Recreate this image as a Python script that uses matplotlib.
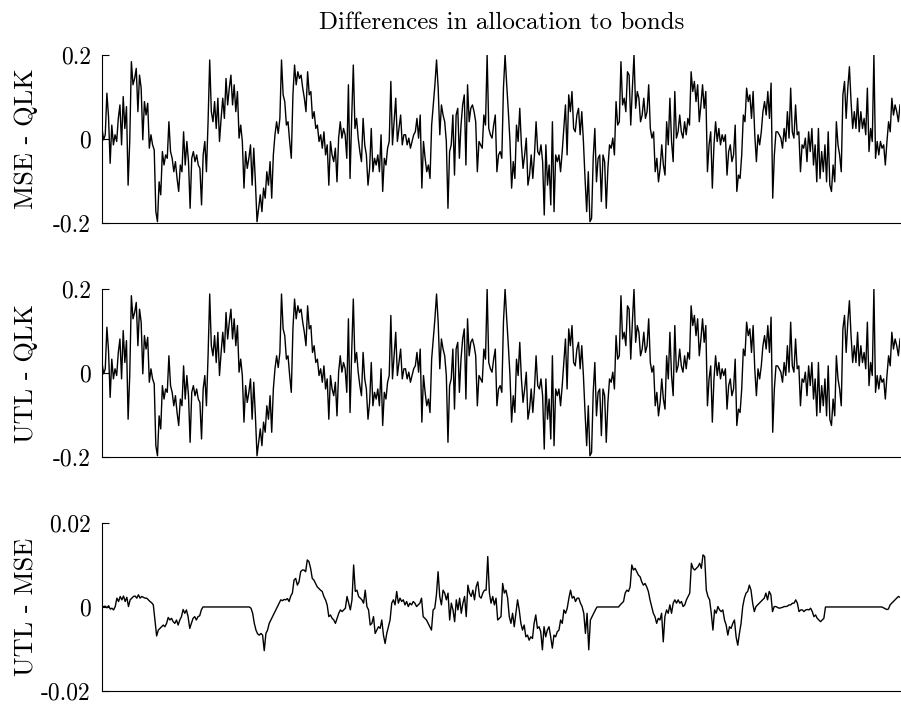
import numpy as np
import matplotlib.pyplot as plt

plt.rcParams['font.family'] = 'serif'
plt.rcParams['font.serif'] = ['cmr10', 'DejaVu Serif']
plt.rcParams['mathtext.fontset'] = 'cm'
plt.rcParams['axes.unicode_minus'] = False

title = 'Differences in allocation to bonds'
panel_labels = ['MSE - QLK', 'UTL - QLK', 'UTL - MSE']
tick_vals = [[-0.2, 0, 0.2], [-0.2, 0, 0.2], [-0.02, 0, 0.02]]
tick_text = [['-0.2', '0', '0.2'], ['-0.2', '0', '0.2'], ['-0.02', '0', '0.02']]

# MSE - QLK left to right
mse_qlk = [
    0.025, -0.002, 0.010, 0.109, 0.053, -0.058, 0.033, -0.014, 0.010, -0.006,
    0.049, 0.081, -0.014, 0.101, 0.025, 0.077, -0.110, -0.006, 0.184, 0.129,
    0.144, 0.168, 0.065, 0.152, 0.121, -0.002, 0.089, 0.057, 0.085, -0.022,
    0.010, -0.014, -0.026, -0.173, -0.197, -0.102, -0.133, -0.030, -0.062, -0.038,
    -0.046, 0.041, -0.030, -0.046, -0.078, -0.054, -0.094, -0.125, -0.062, -0.078,
    0.017, -0.062, -0.006, -0.054, -0.165, -0.046, -0.030, -0.054, -0.038, -0.062,
    -0.070, -0.157, -0.038, -0.006, -0.078, 0.041, 0.188, 0.065, 0.041, 0.089,
    0.025, 0.097, -0.006, 0.049, 0.097, 0.049, 0.144, 0.081, 0.121, 0.152,
    0.081, 0.129, 0.065, 0.113, 0.002, 0.033, -0.006, -0.117, -0.030, -0.070,
    -0.046, -0.014, -0.110, -0.022, -0.102, -0.197, -0.165, -0.133, -0.173, -0.117,
    -0.141, -0.078, -0.110, -0.054, -0.141, -0.038, 0.010, 0.041, 0.013, 0.049,
    0.188, 0.105, 0.089, 0.033, 0.041, -0.006, -0.046, 0.105, 0.176, 0.129,
    0.160, 0.144, 0.152, 0.121,
    0.097, 0.065, 0.160, 0.105, 0.113, 0.049, 0.065, 0.025, 0.033, -0.006,
    0.010, -0.022, 0.017, -0.038, -0.014, -0.110, -0.006, -0.038, -0.054, -0.022,
    -0.102, 0.002, 0.041, 0.002, 0.025, 0.010, -0.046, 0.129, -0.094, 0.049,
    0.176, 0.025, 0.049, 0.002, -0.030, -0.054, 0.049, -0.014, -0.038, -0.110,
    -0.070, 0.025, -0.078, -0.046, -0.062, -0.038, -0.078, 0.010, -0.125, -0.046,
    -0.062, -0.022, -0.006, 0.137, -0.014, 0.041, 0.097, -0.006, 0.025, 0.057,
    -0.014, 0.010, 0.010, -0.014, 0.002, -0.022, -0.006, 0.010, 0.017, 0.049,
    0.002, 0.057, -0.117, -0.006, -0.046, -0.078, -0.062, -0.094, 0.033, 0.081,
    0.129, 0.188, 0.121, 0.010, 0.081, 0.057, 0.041, -0.006, -0.165, -0.030,
    -0.014, 0.057, -0.086, 0.057, 0.073, -0.046, 0.033, 0.081, 0.105, -0.062,
    0.129, 0.041, 0.073, 0.081, 0.065, 0.041, -0.078, -0.006, -0.014, -0.022,
    0.057, 0.033, 0.200, 0.025, 0.010, 0.002, 0.033, 0.057, -0.078, -0.038,
    -0.030, -0.046, 0.121, 0.200, 0.129, 0.065, -0.006, -0.117, -0.054, -0.094,
    0.033, -0.006, 0.073, -0.014, -0.070, -0.038, 0.002, -0.110, -0.086, -0.038,
    -0.094, -0.038, 0.041, -0.030, -0.038, -0.014, -0.054, -0.181, -0.014, -0.110,
    -0.062, -0.157, 0.041, -0.173, -0.038, -0.054, -0.038, -0.078, -0.030, 0.025,
    0.081, -0.038, 0.105, 0.065, 0.113, 0.025, 0.017, 0.057, 0.073, 0.010,
    0.065, -0.006, -0.094, -0.173, -0.078, -0.197, -0.189, -0.046, 0.025, -0.102,
    -0.046, -0.038, -0.149, -0.038, -0.054, -0.165, -0.070, -0.014, -0.022, 0.002,
    -0.038, 0.089, 0.033, 0.041, 0.184, 0.081, 0.097, 0.065, 0.160, 0.152,
    0.033, 0.121, 0.200, 0.073, 0.113, 0.097, 0.041, 0.057, 0.097, 0.049,
    0.065, 0.129, 0.025, 0.002, 0.017, -0.078, -0.046, -0.102, -0.070, -0.014,
    -0.062, -0.086, 0.041, -0.014, 0.097, -0.006, -0.054, 0.113, 0.002, 0.017,
    0.057, 0.017, 0.002, 0.041, 0.010, 0.049, 0.033, 0.160, 0.113, 0.137,
    0.089, 0.129, 0.041,
    0.081, 0.129, 0.073, 0.113, -0.078, -0.014, 0.017, -0.117, -0.014, 0.041,
    -0.006, 0.025, -0.014, 0.010, -0.006, 0.010, -0.086, -0.030, -0.014, -0.054,
    -0.038, 0.033, -0.125, -0.086, -0.094, -0.038, 0.057, 0.041, 0.121, 0.089,
    0.105, 0.049, 0.113, 0.010, -0.054, 0.010, -0.014, 0.017, 0.065, 0.089,
    0.057, 0.113, 0.049, 0.133, -0.141, -0.038, 0.017, 0.017, 0.010, 0.002,
    -0.022, 0.025, -0.006, 0.065, 0.002, 0.121, 0.017, 0.002, 0.081, 0.010,
    0.017, -0.078, -0.014, -0.022, 0.002, -0.054, 0.017, -0.030, 0.025, -0.062,
    -0.014, -0.102, 0.025, -0.094, -0.030, -0.078, -0.014, -0.102, 0.017, -0.110,
    -0.125, -0.062, -0.102, 0.041, -0.014, -0.038, -0.078, 0.105, 0.137, 0.049,
    0.121, 0.172, 0.089, 0.025, 0.065, 0.025, 0.097, 0.017, 0.065, 0.025,
    0.049, 0.010, 0.121, -0.030, 0.025, -0.006, 0.200, -0.046, -0.006, -0.038,
    -0.006, -0.022, -0.014, -0.062, -0.006, 0.041, 0.017, 0.097, 0.057, 0.081,
    0.065, 0.041, 0.081,
]

# UTL - QLK reads the same as MSE - QLK at this resolution
utl_qlk = list(mse_qlk)

# UTL - MSE
utl_mse = [
    0.0001, 0.0001, 0.0002, -0.0002, 0.0003, -0.0005, -0.0003, -0.0007, 0.0001, 0.0021,
    0.0013, 0.0025, 0.0017, 0.0026, 0.0013, 0.0023, 0.0001, 0.0017, 0.0021, 0.0025,
    0.0026, 0.0021, 0.0029, 0.0021, 0.0025, 0.0023, 0.0021, 0.0021, 0.0017, 0.0013,
    0.0010, 0.0005, -0.0031, -0.0069, -0.0055, -0.0051, -0.0047, -0.0043, -0.0047, -0.0039,
    -0.0025, -0.0031, -0.0027, -0.0035, -0.0039, -0.0031, -0.0043, -0.0031, -0.0023, -0.0006,
    -0.0015, -0.0007, -0.0023, -0.0051, -0.0039, -0.0027, -0.0023, -0.0031, -0.0023, -0.0021,
    -0.0007, 0.0,
    0.0, 0.0, 0.0, 0.0, 0.0, 0.0, 0.0, 0.0, 0.0, 0.0,
    0.0, 0.0, 0.0, 0.0, 0.0, 0.0, 0.0, 0.0, 0.0, 0.0,
    0.0, 0.0, 0.0, 0.0, 0.0, 0.0, 0.0, 0.0,
    -0.0003, -0.0015, -0.0039, -0.0055, -0.0064, -0.0067, -0.0063, -0.0067, -0.0104, -0.0063,
    -0.0055, -0.0039, -0.0031, -0.0023, -0.0015, -0.0007, 0.0001, 0.0009, 0.0017, 0.0015,
    0.0018, 0.0017, 0.0020, 0.0013, 0.0026, 0.0033, 0.0064, 0.0068, 0.0052, 0.0060,
    0.0084, 0.0088,
    0.0088, 0.0084, 0.0112, 0.0108, 0.0092, 0.0068, 0.0064, 0.0056, 0.0048, 0.0044,
    0.0040, 0.0037, 0.0025, 0.0017, 0.0005, -0.0023, -0.0019, -0.0027, -0.0031, -0.0039,
    -0.0027, -0.0015, -0.0007, -0.0011, -0.0007, -0.0003, 0.0025, 0.0009, -0.0007, 0.0017,
    0.0100, 0.0037, 0.0040, 0.0025, 0.0021, 0.0017, 0.0009, 0.0040, 0.0001, -0.0007,
    -0.0043, -0.0039, -0.0023, -0.0063, -0.0055, -0.0047, -0.0051, -0.0031, -0.0067, -0.0087,
    -0.0063, -0.0047, -0.0031, 0.0009, 0.0017, 0.0005, 0.0037, 0.0009, 0.0021, 0.0013,
    0.0017, 0.0005, 0.0013, 0.0001, 0.0009, 0.0005, 0.0013, 0.0009, 0.0001, 0.0005,
    0.0009, 0.0021, -0.0023, -0.0027, -0.0031, -0.0039, -0.0047, -0.0055, -0.0007, -0.0003,
    0.0029, 0.0084, 0.0025, 0.0005, 0.0040, 0.0033, 0.0017, 0.0033, -0.0031, 0.0009,
    -0.0007, -0.0035, 0.0017, -0.0007, 0.0021, -0.0015, 0.0009, 0.0025, -0.0023, 0.0052,
    0.0033, 0.0025, 0.0040, 0.0017, 0.0048, 0.0060, 0.0025, 0.0021, 0.0033, 0.0040,
    0.0040, 0.0120, 0.0033, 0.0009, 0.0025, 0.0005, 0.0021, -0.0031,
    -0.0027, -0.0023, 0.0056, 0.0033, 0.0040, 0.0021, -0.0023, -0.0039, -0.0015, -0.0047,
    -0.0015, 0.0017, -0.0007, -0.0039, -0.0055, -0.0043, -0.0071, -0.0067, -0.0079, -0.0071,
    -0.0075, -0.0039, -0.0019, -0.0051, -0.0047, -0.0059, -0.0102, -0.0047, -0.0071, -0.0055,
    -0.0047, -0.0071, -0.0098, -0.0067, -0.0071, -0.0059, -0.0055, -0.0031, -0.0039, -0.0007,
    -0.0015, -0.0003, 0.0021, 0.0040, 0.0021, 0.0025, 0.0013, 0.0021, 0.0021, 0.0009,
    0.0001, -0.0015, -0.0063, -0.0015, -0.0102, -0.0031, -0.0023, -0.0015, -0.0007, 0.0,
    0.0, 0.0, 0.0, 0.0, 0.0, 0.0, 0.0, 0.0, 0.0, 0.0, 0.0, 0.0, 0.0,
    0.0005, 0.0009, 0.0013, 0.0033, 0.0040, 0.0037, 0.0048, 0.0100, 0.0088, 0.0092,
    0.0084, 0.0076, 0.0072, 0.0060, 0.0052, 0.0056, 0.0048, 0.0037, 0.0017, 0.0001,
    -0.0015, -0.0023, -0.0039, -0.0027, -0.0031, -0.0015, -0.0083, -0.0023, -0.0007, -0.0015,
    0.0005, -0.0015, 0.0009, 0.0017, 0.0009, 0.0017, 0.0009, 0.0013, 0.0001, 0.0005,
    0.0017, 0.0025, 0.0033, 0.0104, 0.0092, 0.0088, 0.0092, 0.0096,
    0.0104, 0.0092, 0.0124, 0.0120, 0.0040, 0.0025, 0.0017, -0.0015, -0.0055, -0.0007,
    -0.0015, 0.0001, -0.0007, -0.0011, -0.0007, -0.0031, -0.0043, -0.0067, -0.0047, -0.0051,
    -0.0039, -0.0031, -0.0071, -0.0091, -0.0063, -0.0039, 0.0001, 0.0021, 0.0033, 0.0037,
    0.0052, 0.0040, 0.0009, -0.0011, 0.0001, 0.0005, 0.0009, 0.0013, 0.0017, 0.0021,
    0.0033, 0.0017, 0.0037, 0.0029, -0.0011, 0.0001, 0.0001, -0.0001, -0.0003, -0.0002,
    -0.0001, 0.0001, 0.0001, 0.0002, 0.0005, 0.0005, 0.0009, 0.0009, 0.0017, 0.0009,
    -0.0011, -0.0007, -0.0007, -0.0011, -0.0007, -0.0006, -0.0007, -0.0003, -0.0011, -0.0023,
    -0.0019, -0.0027, -0.0031, -0.0035, -0.0031, -0.0027, 0.0,
    0.0, 0.0, 0.0, 0.0, 0.0, 0.0, 0.0, 0.0, 0.0, 0.0,
    0.0, 0.0, 0.0, 0.0, 0.0, 0.0, 0.0, 0.0, 0.0, 0.0,
    0.0, 0.0, 0.0, 0.0, 0.0, 0.0, 0.0, 0.0, 0.0, 0.0,
    0.0, 0.0, 0.0, 0.0,
    -0.0002, -0.0004, -0.0006, -0.0005, 0.0005, 0.0009, 0.0013, 0.0017, 0.0021, 0.0025,
    0.0023,
]

series = [mse_qlk, utl_qlk, utl_mse]

fig = plt.figure(figsize=(9.01, 7.09), dpi=100)
left, width, height = 0.1132, 0.8857, 0.237
bottoms = [0.6855, 0.3554, 0.0254]

for i in range(3):
    ax = fig.add_axes([left, bottoms[i], width, height])
    y = np.array(series[i])
    x = np.arange(len(y))
    ax.plot(x, y, color='black', lw=1.0)
    ax.set_xlim(0, len(y) - 1)
    ax.set_ylim(tick_vals[i][0], tick_vals[i][-1])
    ax.set_xticks([])
    ax.set_yticks(tick_vals[i])
    ax.set_yticklabels(tick_text[i], fontsize=17)
    ax.tick_params(axis='y', direction='in', length=5, pad=8)
    ax.spines['top'].set_visible(False)
    ax.spines['right'].set_visible(False)
    ax.set_ylabel(panel_labels[i], fontsize=19)
    # all three labels line up at the same x, as in the original
    ax.yaxis.set_label_coords(-0.08, 0.5)

fig.text(0.5565, 1 - 29 / 709, title, fontsize=18, ha='center', va='baseline')

fig.savefig('out.png', dpi=100)
